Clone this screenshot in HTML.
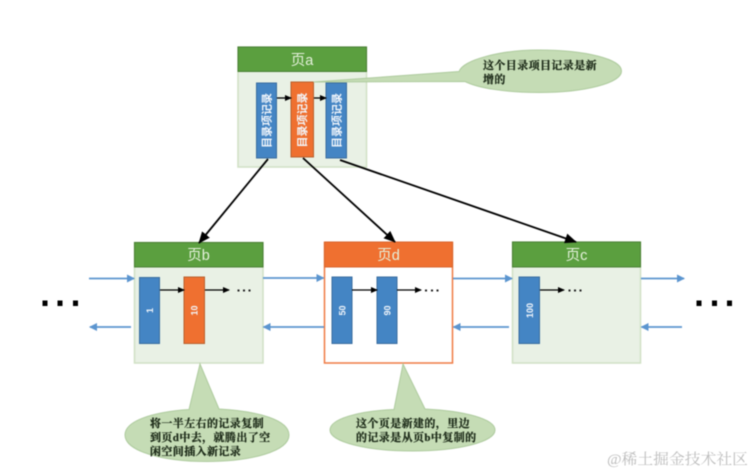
<!DOCTYPE html>
<html>
<head>
<meta charset="utf-8">
<style>
html,body{margin:0;padding:0;background:#fff;}
svg{display:block;filter:blur(0.45px);}
.h{font:14.5px "Liberation Sans","Noto Sans CJK SC",sans-serif;fill:#e6f2dd;text-anchor:middle;}
.v{font:bold 11px "Liberation Sans","Noto Sans CJK SC",sans-serif;fill:#f2f6fb;text-anchor:middle;}
.n{font:bold 9px "Liberation Sans",sans-serif;fill:#f2f6fb;text-anchor:middle;}
.c{font:bold 11px "Liberation Serif","Noto Serif CJK SC",serif;fill:#1c2a18;stroke:#1c2a18;stroke-width:0.25px;letter-spacing:0.4px;}
.w{font:15px "Liberation Serif","Noto Serif CJK SC",serif;fill:#bdbdbd;}
</style>
</head>
<body>
<svg width="754" height="473" viewBox="0 0 754 473" xmlns="http://www.w3.org/2000/svg">
<defs>
<marker id="k" markerWidth="7" markerHeight="6" refX="6" refY="3" orient="auto" markerUnits="userSpaceOnUse"><path d="M0 0L7 3L0 6Z" fill="#000"/></marker>
<marker id="K" markerWidth="12" markerHeight="10" refX="11" refY="5" orient="auto" markerUnits="userSpaceOnUse"><path d="M0 0L12 5L0 10Z" fill="#000"/></marker>
<marker id="b" markerWidth="8" markerHeight="8" refX="7" refY="4" orient="auto" markerUnits="userSpaceOnUse"><path d="M0 0L8 4L0 8Z" fill="#5b95cf"/></marker>
</defs>

<!-- Page a -->
<rect x="238" y="47" width="128.500" height="120" fill="#e9f1e5" stroke="#d0e0c4" stroke-width="1.500"/>
<rect x="238" y="47" width="128.500" height="24.500" fill="#5b9f3f" stroke="#4a7f35"/>
<text class="h" x="302" y="65">页a</text>
<rect x="256.500" y="83" width="20" height="75" fill="#4485c4" stroke="#3a6d9f"/>
<rect x="291" y="82" width="22.500" height="75" fill="#ef7030" stroke="#b8602e"/>
<rect x="326" y="83" width="20.500" height="75" fill="#4485c4" stroke="#3a6d9f"/>
<text class="v" transform="translate(270.500,120.500) rotate(-90)">目录项记录</text>
<text class="v" transform="translate(306,120) rotate(-90)">目录项记录</text>
<text class="v" transform="translate(340.500,120.500) rotate(-90)">目录项记录</text>
<line x1="277" y1="98" x2="291" y2="98" stroke="#000" stroke-width="1.300" marker-end="url(#k)"/>
<line x1="314" y1="98" x2="326" y2="98" stroke="#000" stroke-width="1.300" marker-end="url(#k)"/>

<!-- Top callout -->
<path d="M313.500 82 L459 71.500 C463 60 500 50 539 50 C585 50 621.500 59 621.500 71 C621.500 83 585 92.500 539 92.500 C505 92.500 478 88 465 81.500 Z" fill="#c5dcb5" stroke="#aecb9e" stroke-width="1"/>
<text class="c" x="483" y="69">这个目录项目记录是新</text>
<text class="c" x="483" y="83">增的</text>

<!-- Page b -->
<rect x="134.500" y="242.500" width="128.500" height="120.500" fill="#e9f1e5" stroke="#d0e0c4" stroke-width="1.500"/>
<rect x="134.500" y="242.500" width="128.500" height="24.500" fill="#5b9f3f" stroke="#4a7f35"/>
<text class="h" x="198.500" y="260">页b</text>
<rect x="139.500" y="277.500" width="20" height="66" fill="#4485c4" stroke="#3a6d9f"/>
<rect x="184" y="277" width="20.500" height="66.500" fill="#ef7030" stroke="#b8602e"/>
<text class="n" transform="translate(153,310.500) rotate(-90)">1</text>
<text class="n" transform="translate(197.500,310.500) rotate(-90)">10</text>
<line x1="160" y1="290" x2="184" y2="290" stroke="#000" stroke-width="1.300" marker-end="url(#k)"/>
<line x1="205" y1="290" x2="229" y2="290" stroke="#000" stroke-width="1.300" marker-end="url(#k)"/>
<rect x="237.500" y="289.500" width="2" height="2" fill="#222"/><rect x="243" y="289.500" width="2" height="2" fill="#222"/><rect x="248.500" y="289.500" width="2" height="2" fill="#222"/>

<!-- Page d -->
<rect x="324.500" y="242.500" width="128" height="120.500" fill="#fff" stroke="#ef7a43" stroke-width="1.500"/>
<rect x="324.500" y="242" width="128" height="25" fill="#ef7030" stroke="#d9652c"/>
<text class="h" x="388.500" y="260">页d</text>
<rect x="332" y="277" width="20" height="66.500" fill="#4485c4" stroke="#3a6d9f"/>
<rect x="377" y="277" width="20" height="66.500" fill="#4485c4" stroke="#3a6d9f"/>
<text class="n" transform="translate(345.500,310.500) rotate(-90)">50</text>
<text class="n" transform="translate(390.500,310.500) rotate(-90)">90</text>
<line x1="352" y1="290" x2="377" y2="290" stroke="#000" stroke-width="1.300" marker-end="url(#k)"/>
<line x1="397" y1="290" x2="421" y2="290" stroke="#000" stroke-width="1.300" marker-end="url(#k)"/>
<rect x="425" y="289.500" width="2" height="2" fill="#222"/><rect x="431" y="289.500" width="2" height="2" fill="#222"/><rect x="436.500" y="289.500" width="2" height="2" fill="#222"/>

<!-- Page c -->
<rect x="512.500" y="242" width="128" height="121" fill="#e9f1e5" stroke="#d0e0c4" stroke-width="1.500"/>
<rect x="512.500" y="242" width="128" height="25" fill="#5b9f3f" stroke="#4a7f35"/>
<text class="h" x="576.500" y="260">页c</text>
<rect x="519" y="277" width="20.500" height="66.500" fill="#4485c4" stroke="#3a6d9f"/>
<text class="n" transform="translate(533,310.500) rotate(-90)">100</text>
<line x1="540" y1="290" x2="564" y2="290" stroke="#000" stroke-width="1.300" marker-end="url(#k)"/>
<rect x="568.500" y="289.500" width="2" height="2" fill="#222"/><rect x="574" y="289.500" width="2" height="2" fill="#222"/><rect x="579.500" y="289.500" width="2" height="2" fill="#222"/>

<!-- Black connectors -->
<line x1="268" y1="159" x2="199" y2="243" stroke="#000" stroke-width="1.800" marker-end="url(#K)"/>
<line x1="303" y1="158" x2="395" y2="242" stroke="#000" stroke-width="1.800" marker-end="url(#K)"/>
<line x1="340" y1="160" x2="576" y2="242" stroke="#000" stroke-width="1.800" marker-end="url(#K)"/>

<!-- Blue connectors -->
<g stroke="#5b95cf" stroke-width="1.800" fill="none" marker-end="url(#b)">
<line x1="89" y1="278.500" x2="134" y2="278.500"/>
<line x1="263" y1="278" x2="323.500" y2="278"/>
<line x1="453" y1="278.500" x2="512" y2="278.500"/>
<line x1="641" y1="278.500" x2="684" y2="278.500"/>
<line x1="131" y1="327" x2="90" y2="327"/>
<line x1="324" y1="327" x2="263.500" y2="327"/>
<line x1="509" y1="327" x2="453.500" y2="327"/>
<line x1="682" y1="327" x2="641.500" y2="327"/>
</g>

<!-- Ellipsis -->
<g fill="#000">
<rect x="42.500" y="300.500" width="5" height="5.500"/><rect x="57.500" y="300.500" width="5" height="5.500"/><rect x="73" y="300.500" width="5" height="5.500"/>
<rect x="696.500" y="300.500" width="5" height="5.500"/><rect x="712" y="300.500" width="5" height="5.500"/><rect x="727" y="300.500" width="5" height="5.500"/>
</g>

<!-- Bottom callouts -->
<path d="M200 364 L219 409 C258 411 289 420 289 435 C289 451 252 461.500 207 461.500 C162 461.500 125 451 125 435 C125 421 152 412 189 409.500 Z" fill="#c5dcb5" stroke="#aecb9e"/>
<text class="c" x="150" y="427">将一半左右的记录复制</text>
<text class="c" x="150" y="441">到页d中去，就腾出了空</text>
<text class="c" x="150" y="455">闲空间插入新记录</text>

<path d="M403 364 L425 409 C465 411 495 419 495 430 C495 442 458 451 412.500 451 C367 451 330 442 330 430 C330 419 358 411 394 409.500 Z" fill="#c5dcb5" stroke="#aecb9e"/>
<text class="c" x="356" y="427">这个页是新建的，里边</text>
<text class="c" x="356" y="441">的记录是从页b中复制的</text>

<!-- Watermark -->
<text class="w" x="607" y="464" textLength="141" lengthAdjust="spacingAndGlyphs">@稀土掘金技术社区</text>
</svg>
</body>
</html>
